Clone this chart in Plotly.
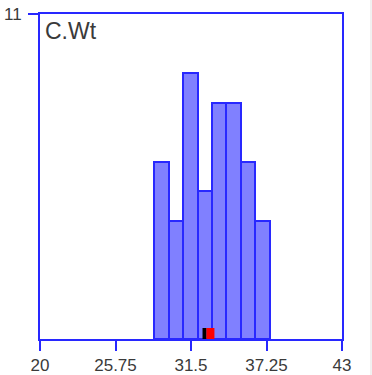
import plotly.graph_objects as go

# Histogram of C.Wt: bin starts, common bin width and counts per bin
bin_left = [28.7, 29.8, 30.9, 32.0, 33.1, 34.2, 35.3, 36.4]
bin_width = 1.1
counts = [6, 4, 9, 5, 8, 8, 6, 4]

# Summary markers on the axis
median_val = 32.53
mean_val = 32.98

x_ticks = [20, 25.75, 31.5, 37.25, 43]
x_tick_text = ["20", "25.75", "31.5", "37.25", "43"]
y_ticks = [11]
y_tick_text = ["11"]
x_range = [20, 43]
y_range = [0, 11]

BLUE = "rgb(40,40,255)"
FILL = "rgb(128,128,255)"
TEXT = "#3a3a3a"
FONT = "Liberation Sans, Arial, sans-serif"

centers = [b + bin_width / 2 for b in bin_left]

fig = go.Figure()
fig.add_trace(go.Bar(
    x=centers,
    y=counts,
    width=[bin_width] * len(counts),
    marker=dict(color=FILL, line=dict(color=BLUE, width=2)),
    hoverinfo="skip",
))

shapes = [
    # median (black) and mean (red) ticks straddling the x axis
    dict(type="rect", xref="x", yref="y", xsizemode="pixel", ysizemode="pixel",
         xanchor=median_val, x0=-2, x1=2, yanchor=0, y0=-8, y1=11,
         fillcolor="black", line=dict(width=0), layer="above"),
    dict(type="rect", xref="x", yref="y", xsizemode="pixel", ysizemode="pixel",
         xanchor=mean_val, x0=-4, x1=4, yanchor=0, y0=-8, y1=11,
         fillcolor="red", line=dict(width=0), layer="above"),
    # faint frame edge on the right
    dict(type="line", xref="paper", yref="paper", x0=1.096, x1=1.096, y0=-0.2, y1=1.1,
         line=dict(color="#e2e2e2", width=1)),
]

fig.update_layout(
    width=372,
    height=375,
    margin=dict(l=40, r=30, t=14, b=36),
    paper_bgcolor="white",
    plot_bgcolor="white",
    showlegend=False,
    bargap=0,
    shapes=shapes,
    font=dict(family=FONT, color=TEXT, size=17),
    annotations=[dict(
        text="C.Wt", xref="paper", yref="paper", x=0.01, y=0.995,
        xanchor="left", yanchor="top", showarrow=False,
        font=dict(family=FONT, size=23, color=TEXT),
    )],
    xaxis=dict(
        range=x_range, tickvals=x_ticks, ticktext=x_tick_text,
        showgrid=False, zeroline=False, automargin=False,
        showline=True, linecolor=BLUE, linewidth=2, mirror=True,
        ticks="outside", ticklen=10, tickwidth=2, tickcolor=BLUE,
        tickfont=dict(family=FONT, size=17, color=TEXT),
        fixedrange=True,
    ),
    yaxis=dict(
        range=y_range, tickvals=y_ticks, ticktext=y_tick_text,
        showgrid=False, zeroline=False, automargin=False,
        showline=True, linecolor=BLUE, linewidth=2, mirror=True,
        ticks="outside", ticklen=10, tickwidth=2, tickcolor=BLUE,
        tickfont=dict(family=FONT, size=17, color=TEXT),
        ticklabelstandoff=3,
        fixedrange=True,
    ),
)

fig.write_html("out.html", config={"displayModeBar": False})
